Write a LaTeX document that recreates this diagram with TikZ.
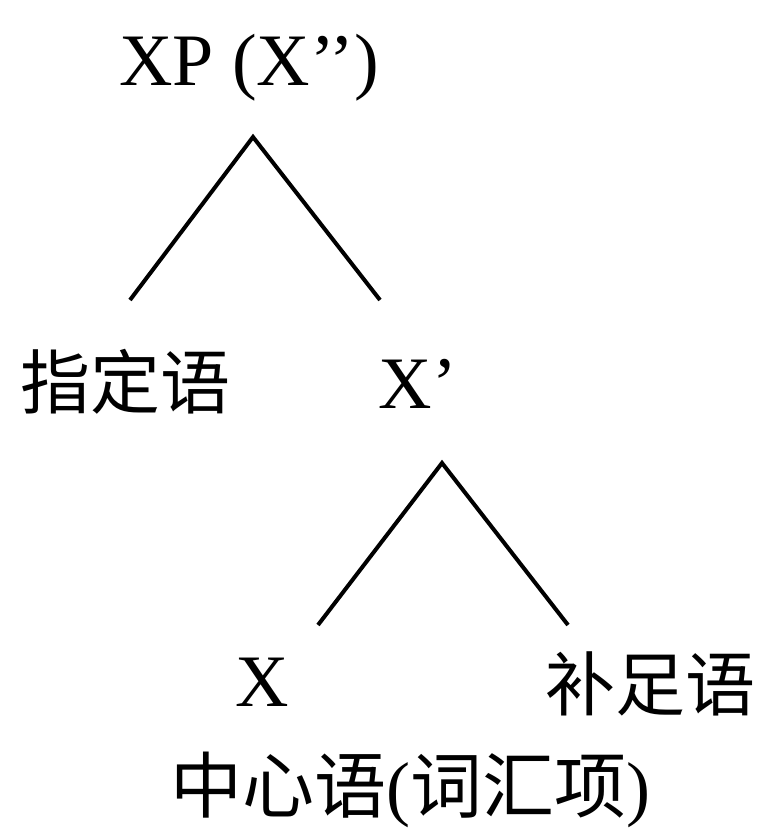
\documentclass[tikz,border=0pt]{standalone}
\usepackage{fontspec}
\setmainfont{Liberation Serif}
\newfontfamily\cjk{Noto Sans CJK SC}
\usetikzlibrary{positioning}
\tikzset{
  lbl/.style={inner sep=0pt, anchor=base, font=\fontsize{74}{80}\selectfont},
  cjklbl/.style={inner sep=0pt, anchor=center, font=\fontsize{70}{80}\selectfont\cjk},
  branch/.style={line width=4pt}
}

\begin{document}
\begin{tikzpicture}[x=1pt, y=-1pt]
  \useasboundingbox (0,0) rectangle (776,837);

  % Nodes
  \node[lbl] (xp) at (249,86) {XP (X’’)};
  \node[cjklbl] (spec) at (125,382) {指定语};
  \node[lbl] (xbar) at (418,408) {X’};
  \node[lbl] (head) at (262,706) {X};
  \node[cjklbl] (comp) at (650,684) {补足语};
  \node[lbl, font=\fontsize{72}{80}\selectfont] (lex) at (410,812) {{\cjk 中心语}({\cjk 词汇项})};

  % Branch points
  \coordinate (top1) at (253,137);
  \coordinate (left1) at (130,300);
  \coordinate (right1) at (380,300);
  \coordinate (top2) at (442,463);
  \coordinate (left2) at (318,625);
  \coordinate (right2) at (568,625);

  % Branches
  \draw[branch] (left1) -- (top1) -- (right1);
  \draw[branch] (left2) -- (top2) -- (right2);
\end{tikzpicture}
\end{document}
